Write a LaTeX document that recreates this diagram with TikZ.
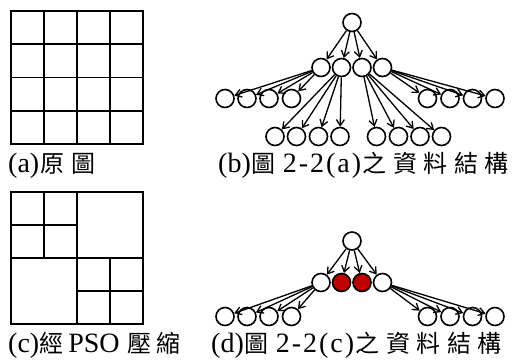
\documentclass[tikz,border=0pt]{standalone}
\usepackage{fontspec}
\setmainfont{Liberation Serif}
\newfontfamily\cjkfont{Noto Sans CJK TC}
\usetikzlibrary{arrows.meta}
\newcommand\cj[1]{{\cjkfont\fontsize{24}{24}\selectfont #1}}
\newcommand\ck{\kern6.5pt}
\newcommand\lk{\kern2pt}
\tikzset{
  nd/.style={circle,draw,line width=1.6pt,minimum size=18pt,inner sep=0pt,fill=white},
  rednd/.style={nd,fill=red!75!black},
  ar/.style={line width=1.3pt,-{Straight Barb[length=6pt,width=8pt]}},
  captxt/.style={anchor=base west,inner sep=0pt,font=\fontsize{28}{28}\selectfont},
  gridln/.style={line width=1.8pt}
}
\begin{document}
\begin{tikzpicture}[x=1pt,y=-1pt]
\useasboundingbox (0,0) rectangle (518,360);
% (a) grid
\draw[gridln] (11,11) rectangle (143,144);
\foreach \i in {44,77,110} {\draw[gridln] (\i,11) -- (\i,144);}
\foreach \j in {44.25,77.5,110.75} {\draw[gridln] (11,\j) -- (143,\j);}
% (c) grid
\draw[gridln] (11,192) rectangle (143,324);
\draw[gridln] (77,192) -- (77,324);
\draw[gridln] (11,258) -- (143,258);
\draw[gridln] (44,192) -- (44,258);
\draw[gridln] (11,225) -- (77,225);
\draw[gridln] (110,258) -- (110,324);
\draw[gridln] (77,291) -- (143,291);
% (b) tree
\node[nd] (r) at (352,22.5) {};
\foreach \n/\x in {1/321,2/341.5,3/362,4/382.5} {\node[nd] (a\n) at (\x,67.5) {};}
\foreach \n/\x in {1/225,2/247,3/269,4/291.5} {\node[nd] (b\n) at (\x,98.5) {};}
\foreach \n/\x in {1/427.5,2/450,3/472.5,4/495} {\node[nd] (c\n) at (\x,98.5) {};}
\foreach \n/\x in {1/275,2/296.5,3/318.5,4/340} {\node[nd] (d\n) at (\x,136.5) {};}
\foreach \n/\x in {1/376.5,2/398.5,3/420,4/441.5} {\node[nd] (e\n) at (\x,136.5) {};}
\foreach \n in {1,2,3,4} {
  \draw[ar] (r) -- (a\n);
  \draw[ar] (a1) -- (b\n);
  \draw[ar] (a4) -- (c\n);
  \draw[ar] (a2) -- (d\n);
  \draw[ar] (a3) -- (e\n);
}
% (d) tree
\node[nd] (R) at (352,241) {};
\node[nd] (A1) at (321,282.5) {};
\node[rednd] (A2) at (341.5,282.5) {};
\node[rednd] (A3) at (362,282.5) {};
\node[nd] (A4) at (382.5,282.5) {};
\foreach \n/\x in {1/225,2/247,3/269,4/291.5} {\node[nd] (B\n) at (\x,316.5) {};}
\foreach \n/\x in {1/427.5,2/450,3/472.5,4/495} {\node[nd] (C\n) at (\x,316.5) {};}
\foreach \n in {1,2,3,4} {
  \draw[ar] (R) -- (A\n);
  \draw[ar] (A1) -- (B\n);
  \draw[ar] (A4) -- (C\n);
}
% captions
\node[captxt] (capa) at (8,172.5) {(a)\kern1pt\cj{原\kern7pt 圖}};
\node[captxt] (capb) at (218,172.5) {(b)\kern1pt\cj{圖}\kern7pt 2\lk-\lk 2\lk(\lk a\lk)\kern1.5pt\cj{之\ck{}資\ck{}料\ck{}結\ck{}構}};
\node[captxt] (capc) at (8,352.5) {(c)\cj{經}\kern5pt PSO\kern8pt\cj{壓\kern5pt 縮}};
\node[captxt] (capd) at (211,352.5) {(d)\kern1pt\cj{圖}\kern7pt 2\lk-\lk 2\lk(\lk c\lk)\kern1.5pt\cj{之\ck{}資\ck{}料\ck{}結\ck{}構}};
\end{tikzpicture}
\end{document}
